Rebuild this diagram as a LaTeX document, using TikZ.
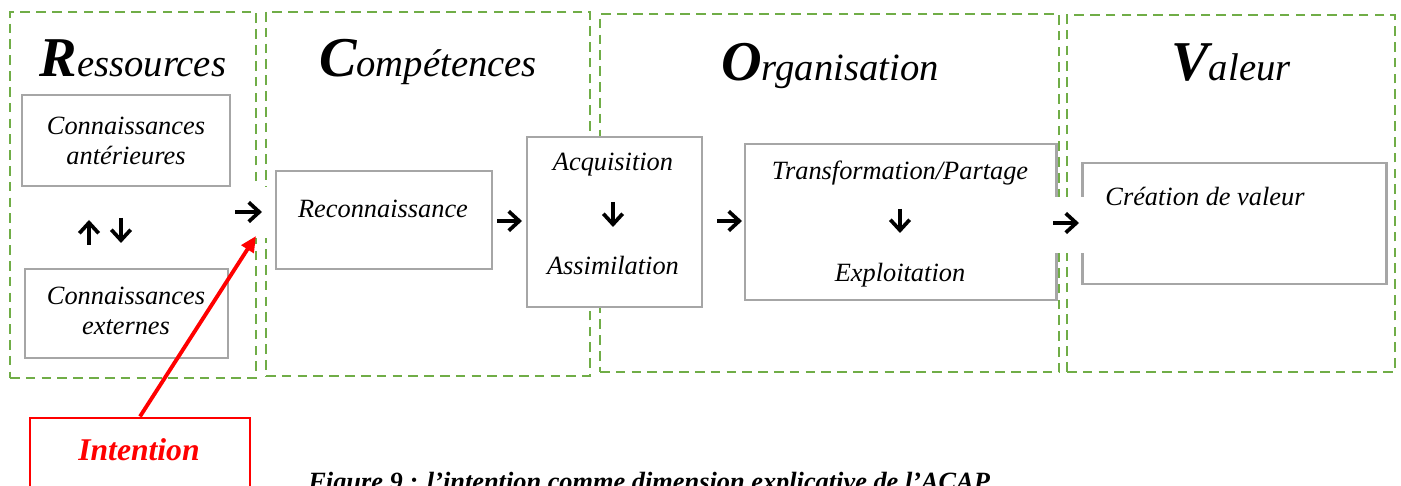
\documentclass[tikz,border=0pt]{standalone}
\usepackage{fontspec}
\setmainfont{Liberation Serif}
\usetikzlibrary{arrows.meta,fit}
\definecolor{grn}{HTML}{70AD47}
\definecolor{gry}{HTML}{A6A6A6}
\begin{document}
\begin{tikzpicture}[x=0.02cm,y=-0.02cm,
  zone/.style={draw=grn,line width=1.4pt,dash pattern=on 5.5pt off 3.5pt,inner sep=0pt},
  gbox/.style={draw=gry,line width=1.7pt,fill=white,inner sep=0pt},
  gap/.style={fill=white,draw=none,inner sep=0pt},
  txt/.style={font=\fontsize{15}{17.5}\selectfont\itshape,inner sep=0pt,anchor=base},
  head/.style={font=\fontsize{22}{26}\selectfont\itshape,inner sep=0pt,anchor=base},
  sarr/.style={-{Straight Barb[length=6pt,width=11pt]},line width=2.1pt},
  redarr/.style={-{Triangle[length=9pt,width=8pt]},draw=red,line width=2.2pt}]
\useasboundingbox (0,0) rectangle (1401,486);
% zones
\node[zone,fit={(10,12) (256,378)}] (zR) {};
\node[zone,fit={(266,12) (590,376)}] (zC) {};
\node[zone,fit={(600,14) (1059,372)}] (zO) {};
\node[zone,fit={(1067,15) (1395,372)}] (zV) {};
% headings
\node[head] (hR) at (133,77) {{\fontsize{32}{36}\selectfont\bfseries R}essources};
\node[head] (hC) at (428,77) {{\fontsize{32}{36}\selectfont\bfseries C}ompétences};
\node[head] (hO) at (830,81) {{\fontsize{32}{36}\selectfont\bfseries O}rganisation};
\node[head] (hV) at (1231,81) {{\fontsize{32}{36}\selectfont\bfseries V}aleur};
% grey boxes
\node[gbox,fit={(22,95) (230,186)}] (ca) {};
\node[gbox,fit={(25,269) (228,358)}] (ce) {};
\node[gbox,fit={(276,171) (492,269)}] (rec) {};
\node[gbox,fit={(527,137) (702,307)}] (acq) {};
\node[gbox,fit={(745,144) (1056,300)}] (tra) {};
\node[gbox,fit={(1082,163) (1386,284)}] (cre) {};
% texts
\node[txt] (t1) at (126,135) {Connaissances};
\node[txt] (t2) at (126,165) {antérieures};
\node[txt] (t3) at (126,305) {Connaissances};
\node[txt] (t4) at (126,335) {externes};
\node[txt] (t5) at (383,218) {Reconnaissance};
\node[txt] (t6) at (613,171) {Acquisition};
\node[txt] (t7) at (613,275) {Assimilation};
\node[txt] (t8) at (900,180) {Transformation/Partage};
\node[txt] (t9) at (900,282) {Exploitation};
\node[txt] (t10) at (1205,206) {Création de valeur};
% white gaps behind arrows
\node[gap,fit={(215,187) (270,238)}] (g1) {};
\node[gap,fit={(1048,197) (1090,253)}] (g4) {};
% arrows
\coordinate (a1s) at (235,212); \coordinate (a1e) at (262,212);
\coordinate (a2s) at (497,221); \coordinate (a2e) at (522,221);
\coordinate (a3s) at (717,221); \coordinate (a3e) at (742,221);
\coordinate (a4s) at (1053,223); \coordinate (a4e) at (1079,223);
\coordinate (d1s) at (613,202); \coordinate (d1e) at (613,227);
\coordinate (d2s) at (900,209); \coordinate (d2e) at (900,233);
\coordinate (u1s) at (89,245); \coordinate (u1e) at (89,220);
\coordinate (u2s) at (121,218); \coordinate (u2e) at (121,243);
\draw[sarr] (a1s) -- (a1e);
\draw[sarr] (a2s) -- (a2e);
\draw[sarr] (a3s) -- (a3e);
\draw[sarr] (a4s) -- (a4e);
\draw[sarr] (d1s) -- (d1e);
\draw[sarr] (d2s) -- (d2e);
\draw[sarr] (u1s) -- (u1e);
\draw[sarr] (u2s) -- (u2e);
% intention
\node[draw=red,line width=1.7pt,fill=white,inner sep=0pt,fit={(30,418) (250,520)}] (int) {};
\node[inner sep=0pt,anchor=base,text=red,font=\fontsize{18}{21}\selectfont\bfseries\itshape] (it) at (139,460) {Intention};
\coordinate (rtip) at (256,236);
\draw[redarr] (int.north) -- (rtip);
% caption
\node[inner sep=0pt,anchor=base west,font=\fontsize{15}{18}\selectfont\bfseries\itshape] (cap) at (308,491) {Figure 9 : l'intention comme dimension explicative de l'ACAP};
\end{tikzpicture}
\end{document}
